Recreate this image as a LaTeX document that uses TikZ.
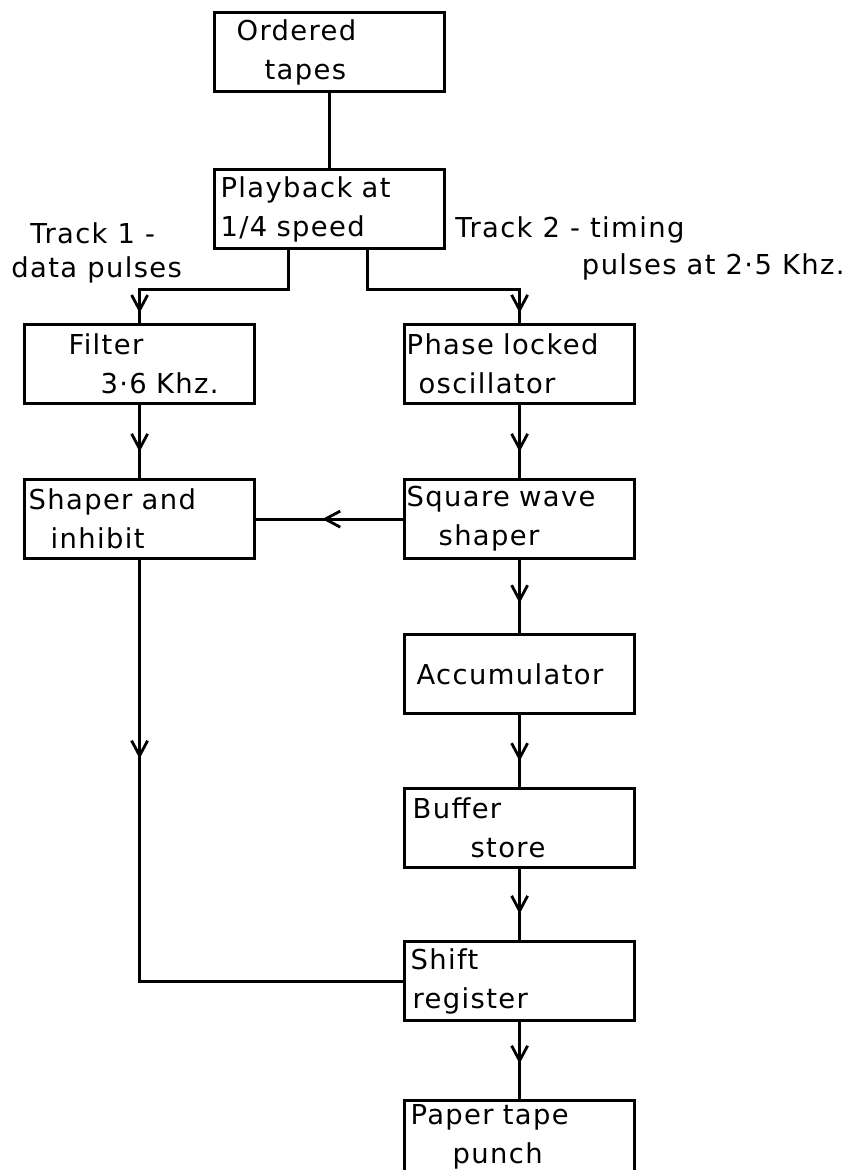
\documentclass[tikz,border=0pt]{standalone}
\usepackage{fontspec}
\setmainfont{DejaVu Sans}[LetterSpace=5]
\usetikzlibrary{arrows.meta,decorations.markings,calc}
\newcommand{\lettering}{\fontsize{13.7}{19.5}\selectfont}
\tikzset{
  blockbox/.style={draw, line width=1.6pt, anchor=north west, inner sep=0pt,
    minimum height=39.5pt, text width=115pt, align=left, font=\lettering},
  conn/.style={line width=1.4pt},
  midarr/.style={conn, postaction={decorate}, decoration={markings,
    mark=at position #1 with {\arrow{Straight Barb[length=7.5pt,width=8pt,line width=1.4pt]}}}},
  midarr/.default=0.6,
  tracklabel/.style={inner sep=0pt, font=\lettering}
}
\begin{document}
\begin{tikzpicture}[x=0.5pt,y=-0.5pt]
  \useasboundingbox (0,0) rectangle (848,1170);
  % blocks
  \node[blockbox] (tapes)  at (213,11)   {\hspace*{11pt}Ordered\\\hspace*{25pt}tapes};
  \node[blockbox] (play)   at (213,168)  {\hspace*{3pt}Playback at\\\hspace*{3pt}1/4 speed};
  \node[blockbox] (filter) at (23,323)   {\hspace*{22pt}Filter\\\hspace*{38pt}3·6 Khz.};
  \node[blockbox] (phase)  at (403,323)  {\hspace*{1pt}Phase locked\\\hspace*{7pt}oscillator};
  \node[blockbox] (shaper) at (23,478)   {\hspace*{2pt}Shaper and\\\hspace*{13pt}inhibit};
  \node[blockbox] (square) at (403,478)  {\hspace*{1pt}Square wave\\\hspace*{17pt}shaper};
  \node[blockbox] (accum)  at (403,633)  {\hspace*{6pt}Accumulator};
  \node[blockbox] (buffer) at (403,787)  {\hspace*{4pt}Buffer\\\hspace*{33pt}store};
  \node[blockbox] (shift)  at (403,940)  {\hspace*{3pt}Shift\\\hspace*{4pt}register};
  \node[blockbox, minimum height=36pt] (punch) at (403,1099) {\hspace*{3pt}Paper tape\\\hspace*{24pt}punch};
  % track labels
  \node[tracklabel, anchor=west] (t1a) at (30,233) {Track 1 -};
  \node[tracklabel, anchor=west] (t1b) at (11,270) {data pulses};
  \node[tracklabel, anchor=west] (t2a) at (455,230) {Track 2 - timing};
  \node[tracklabel, anchor=east] (t2b) at (845,267) {pulses at 2·5 Khz.};
  % connectors
  \coordinate (jl) at ($(play.south)+(-20.5pt,-19.5pt)$);
  \coordinate (jr) at ($(play.south)+(19pt,-19.5pt)$);
  \coordinate (kl) at (jl -| filter.north);
  \coordinate (kr) at (jr -| phase.north);
  \coordinate (dl) at (shaper.south |- shift.west);
  \draw[conn] (tapes.south) -- (play.north);
  \draw[midarr=0.955] ([xshift=-20.5pt]play.south) -- (jl) -- (kl) -- (filter.north);
  \draw[midarr=0.955] ([xshift=19pt]play.south) -- (jr) -- (kr) -- (phase.north);
  \draw[midarr=0.64] (filter.south) -- (shaper.north);
  \draw[midarr=0.64] (phase.south) -- (square.north);
  \draw[midarr=0.55] (square.west) -- (shaper.east);
  \draw[midarr=0.59] (square.south) -- (accum.north);
  \draw[midarr=0.64] (accum.south) -- (buffer.north);
  \draw[midarr=0.63] (buffer.south) -- (shift.north);
  \draw[midarr=0.54] (shift.south) -- (punch.north);
  \draw[midarr=0.29] (shaper.south) -- (dl) -- (shift.west);
\end{tikzpicture}
\end{document}
